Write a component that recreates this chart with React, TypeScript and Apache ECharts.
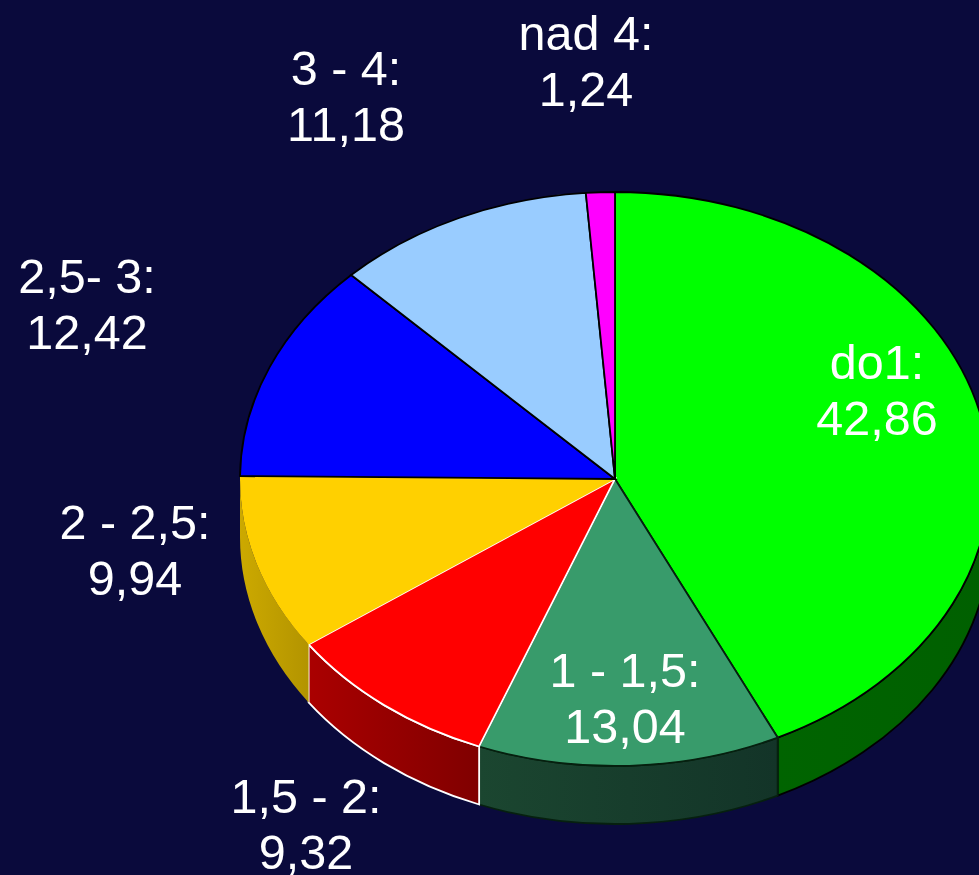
import React, { useEffect, useRef } from "react";
import * as echarts from "echarts";

const categories = ["do1", "1 - 1,5", "1,5 - 2", "2 - 2,5", "2,5- 3", "3 - 4", "nad 4"];
const values = [42.86, 13.04, 9.32, 9.94, 12.42, 11.18, 1.24];

const topColors = ["#00ff00", "#389b6b", "#ff0000", "#ffd000", "#0000ff", "#99ccff", "#ff00ff"];
const wallFrom = ["#006400", "#1b4630", "#aa0000", "#cca900", "#000080", "#4d6680", "#800080"];
const wallTo = ["#006000", "#133428", "#800000", "#b39400", "#000080", "#4d6680", "#800080"];
const edgeColors = ["#000000", "#06200f", "#ffffff", "none", "#000000", "#000000", "#000000"];
const labelX = [877, 625, 306, 135, 87, 346, 586];
const labelY = [390, 698, 824, 550, 304, 96, 61];

const CX = 615;
const CY = 479;
const RX = 375;
const RY = 287;
const DEPTH = 58;
const BG = "#0a0a3c";
const FONT = '48.5px "Liberation Sans", Arial, sans-serif';

const total = values.reduce((a, b) => a + b, 0);
const px = (deg: number) => CX + RX * Math.sin((deg * Math.PI) / 180);
const py = (deg: number) => CY - RY * Math.cos((deg * Math.PI) / 180);

function topPath(a0: number, a1: number) {
  const large = a1 - a0 > 180 ? 1 : 0;
  return `M${CX} ${CY}L${px(a0)} ${py(a0)}A${RX} ${RY} 0 ${large} 1 ${px(a1)} ${py(a1)}Z`;
}

function wallPath(a0: number, a1: number) {
  return (
    `M${px(a0)} ${py(a0)}A${RX} ${RY} 0 0 1 ${px(a1)} ${py(a1)}` +
    `L${px(a1)} ${py(a1) + DEPTH}A${RX} ${RY} 0 0 0 ${px(a0)} ${py(a0) + DEPTH}Z`
  );
}

function renderItem(params: any) {
  const i = params.dataIndex;
  const sumBefore = values.slice(0, i).reduce((a, b) => a + b, 0);
  const a0 = (sumBefore / total) * 360;
  const a1 = ((sumBefore + values[i]) / total) * 360;
  const w0 = Math.max(a0, 90);
  const w1 = Math.min(a1, 270);
  const stroke = edgeColors[i];
  const children: any[] = [];
  if (w1 > w0) {
    children.push({
      type: "path",
      shape: { pathData: wallPath(w0, w1) },
      style: {
        fill: new echarts.graphic.LinearGradient(0, 0, 1, 0, [
          { offset: 0, color: wallFrom[i] },
          { offset: 1, color: wallTo[i] },
        ]),
        stroke: stroke === "none" ? null : stroke,
        lineWidth: 1.8,
      },
    });
  }
  children.push({
    type: "path",
    shape: { pathData: topPath(a0, a1) },
    style: { fill: topColors[i], stroke: stroke === "none" ? null : stroke, lineWidth: 1.8 },
  });
  children.push({
    type: "text",
    z2: 100,
    style: {
      text: `${categories[i]}:\n${values[i].toFixed(2).replace(".", ",")}`,
      x: labelX[i],
      y: labelY[i],
      fill: "#ffffff",
      font: FONT,
      lineHeight: 56,
      align: "center",
      verticalAlign: "middle",
    },
  });
  return { type: "group", children };
}

export default function App() {
  const ref = useRef<HTMLDivElement>(null);
  useEffect(() => {
    document.body.style.margin = "0";
    document.body.style.background = BG;
    const chart = echarts.init(ref.current!, null, { renderer: "svg" });
    chart.setOption({
      animation: false,
      backgroundColor: BG,
      series: [
        {
          type: "custom",
          coordinateSystem: "none",
          clip: false,
          silent: true,
          renderItem,
          data: values,
        },
      ],
    });
    return () => chart.dispose();
  }, []);
  return <div ref={ref} style={{ position: "absolute", left: 0, top: 0, width: 979, height: 875, overflow: "hidden" }} />;
}
